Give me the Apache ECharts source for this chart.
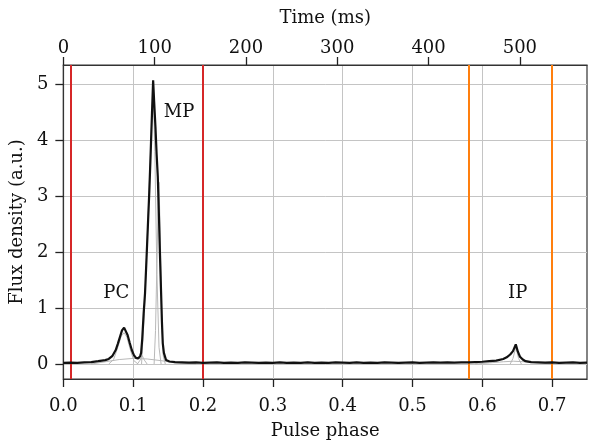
<!DOCTYPE html>
<html><head><meta charset="utf-8">
<script src="https://cdn.jsdelivr.net/npm/echarts@6/dist/echarts.min.js"></script>
<style>html,body{margin:0;padding:0;background:#fff}#c{width:600px;height:446px}</style>
</head><body><div id="c"></div>
<script>
// Pulse profile (black line)
const phase = [0.000,0.010,0.020,0.030,0.040,0.050,0.055,0.060,0.065,0.070,0.075,0.078,0.081,0.084,0.087,0.089,0.092,0.095,0.098,0.101,0.104,0.107,0.110,0.1114,0.113,0.115,0.117,0.119,0.121,0.123,0.1247,0.127,0.1286,0.130,0.1319,0.1336,0.1353,0.137,0.1385,0.140,0.1412,0.1424,0.144,0.1471,0.152,
0.16,0.17,0.18,0.19,0.20,0.21,0.22,0.23,0.24,0.25,0.26,0.27,0.28,0.29,0.30,0.31,0.32,0.33,0.34,0.35,0.36,0.37,0.38,0.39,0.40,0.41,0.42,0.43,0.44,0.45,0.46,0.47,0.48,0.49,0.50,0.51,0.52,0.53,0.54,0.55,0.56,0.57,0.58,0.59,0.60,0.61,0.62,0.63,0.635,0.640,0.644,0.648,0.651,0.654,0.658,0.662,0.67,0.68,0.69,0.70,0.71,0.72,0.73,0.74,0.75];
const flux = [0.02,0.025,0.02,0.03,0.035,0.05,0.06,0.07,0.09,0.14,0.25,0.36,0.48,0.60,0.65,0.63,0.52,0.38,0.25,0.16,0.11,0.10,0.14,0.20,0.45,0.90,1.27,1.85,2.45,3.05,3.64,4.50,5.07,4.70,4.24,3.75,3.34,2.60,1.90,1.27,0.75,0.37,0.20,0.07,0.045,
0.035,0.03,0.025,0.03,0.02,0.025,0.03,0.02,0.025,0.02,0.03,0.025,0.02,0.025,0.02,0.03,0.02,0.025,0.02,0.03,0.02,0.025,0.02,0.03,0.025,0.02,0.03,0.02,0.025,0.02,0.03,0.025,0.02,0.025,0.03,0.02,0.025,0.03,0.025,0.03,0.025,0.03,0.03,0.035,0.04,0.05,0.06,0.09,0.12,0.17,0.23,0.35,0.22,0.13,0.08,0.05,0.035,0.03,0.025,0.03,0.02,0.025,0.03,0.02,0.025];

// Fitted components (grey lines)
const compBroad = [[0.04,0],[0.06,0.04],[0.08,0.08],[0.10,0.10],[0.12,0.09],[0.14,0.06],[0.16,0.02],[0.19,0]];
const compPC = [[0.065,0],[0.072,0.08],[0.078,0.3],[0.083,0.5],[0.087,0.56],[0.091,0.48],[0.096,0.25],[0.101,0.06],[0.107,0]];
const compSmall = [[0.106,0],[0.110,0.07],[0.113,0.15],[0.116,0.07],[0.120,0]];
const compMP1 = [[0.112,0],[0.116,0.9],[0.120,2.2],[0.124,3.5],[0.1286,4.97],[0.131,3.8],[0.134,1.6],[0.137,0.3],[0.140,0]];
const compMP2 = [[0.130,0],[0.132,0.6],[0.134,1.8],[0.136,3.0],[0.137,3.25],[0.139,2.2],[0.141,0.8],[0.143,0.15],[0.146,0]];
const compIPbroad = [[0.59,0],[0.61,0.02],[0.63,0.04],[0.645,0.05],[0.66,0.04],[0.68,0.02],[0.70,0]];
const compIP = [[0.640,0],[0.644,0.1],[0.648,0.3],[0.652,0.1],[0.656,0]];

// Window markers
const redLines = [0.01, 0.20];
const orangeLines = [0.58, 0.70];

// Tick labels
const phaseTicks = [0,0.1,0.2,0.3,0.4,0.5,0.6,0.7];
const fluxTicks = [0,1,2,3,4,5];
const timeTicks = [0,100,200,300,400,500];

// Annotations
const notes = [[0.0757,1.26,'PC'],[0.1657,4.5,'MP'],[0.6507,1.26,'IP']];

const FONT = 'DejaVu Serif';
const chart = echarts.init(document.getElementById('c'), null, {renderer:'canvas'});
const grey = {type:'line', showSymbol:false, symbol:'none', lineStyle:{color:'#b8b8b8', width:1}, z:3, silent:true};

chart.setOption({
  animation:false,
  textStyle:{fontFamily:FONT},
  grid:{left:62, right:13, top:65, bottom:67, show:true, borderColor:'#333', borderWidth:1.2, backgroundColor:'transparent'},
  xAxis:[{
    type:'value', position:'bottom', min:0, max:0.75,
    name:'Pulse phase', nameLocation:'middle', nameGap:43,
    nameTextStyle:{fontFamily:FONT, fontSize:18, color:'#111'},
    axisLine:{show:true, onZero:false, lineStyle:{color:'#333', width:1.2}},
    axisTick:{show:true, customValues:phaseTicks, length:8, lineStyle:{color:'#222', width:1.3}},
    axisLabel:{customValues:phaseTicks, fontFamily:FONT, fontSize:18, color:'#111', margin:18, formatter:v=>v.toFixed(1)},
    splitLine:{show:true, lineStyle:{color:'#c4c4c4', width:1}}
  },{
    type:'value', position:'top', min:0, max:573.5,
    name:'Time (ms)', nameLocation:'middle', nameGap:38,
    nameTextStyle:{fontFamily:FONT, fontSize:18, color:'#111'},
    axisLine:{show:true, onZero:false, lineStyle:{color:'#333', width:1.2}},
    axisTick:{show:true, customValues:timeTicks, length:8, lineStyle:{color:'#222', width:1.3}},
    axisLabel:{customValues:timeTicks, fontFamily:FONT, fontSize:18, color:'#111', margin:8},
    splitLine:{show:false}
  }],
  yAxis:[{
    type:'value', min:-0.268, max:5.345,
    name:'Flux density (a.u.)', nameLocation:'middle', nameGap:33,
    nameTextStyle:{fontFamily:FONT, fontSize:18, color:'#111'},
    axisLine:{show:true, onZero:false, lineStyle:{color:'#333', width:1.2}},
    axisTick:{show:true, customValues:fluxTicks, length:8, lineStyle:{color:'#222', width:1.3}},
    axisLabel:{customValues:fluxTicks, fontFamily:FONT, fontSize:18, color:'#111', margin:15},
    splitLine:{show:true, lineStyle:{color:'#c4c4c4', width:1}}
  }],
  series:[
    Object.assign({}, grey, {data:compBroad}),
    Object.assign({}, grey, {data:compPC}),
    Object.assign({}, grey, {data:compSmall}),
    Object.assign({}, grey, {data:compMP1}),
    Object.assign({}, grey, {data:compMP2}),
    Object.assign({}, grey, {data:compIPbroad}),
    Object.assign({}, grey, {data:compIP}),
    {
      type:'line', symbol:'none', showSymbol:false, z:5,
      data: phase.map((p,i)=>[p, flux[i]]),
      lineStyle:{color:'#111', width:2.2},
      markLine:{
        silent:true, symbol:['none','none'], label:{show:false},
        data: redLines.map(v=>({xAxis:v, lineStyle:{color:'#d62728', width:2, type:'solid'}}))
          .concat(orangeLines.map(v=>({xAxis:v, lineStyle:{color:'#ff7f0e', width:2, type:'solid'}})))
      }
    },
    {
      type:'scatter', symbolSize:1, z:6, silent:true,
      itemStyle:{color:'rgba(0,0,0,0)', opacity:1},
      data: notes,
      label:{show:true, position:'inside', formatter:p=>p.data[2], fontFamily:FONT, fontSize:18, color:'#111', opacity:1, textBorderWidth:0}
    }
  ]
});
</script>
</body></html>
